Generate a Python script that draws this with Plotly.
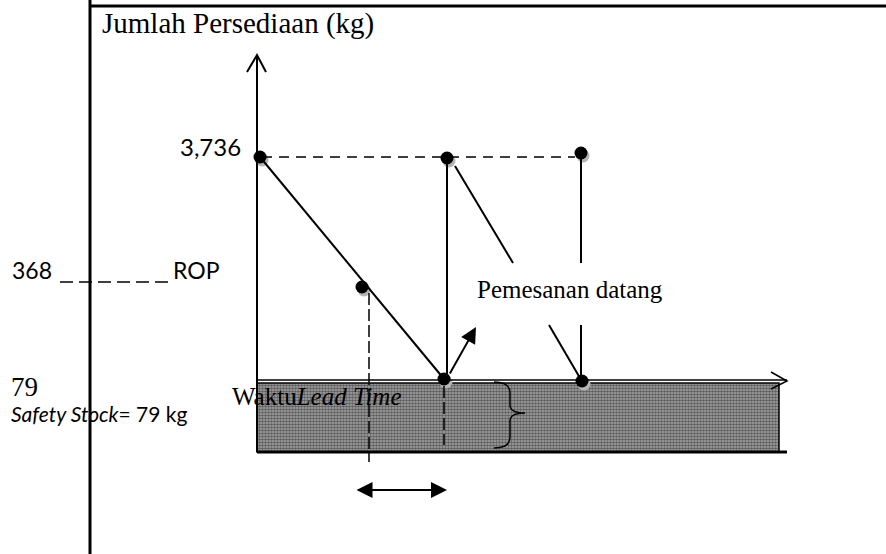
import plotly.graph_objects as go

# ---- diagram data (schematic coordinates: x = time position, y = drawing level) ----
level_labels = ["3,736", "368", "79"]
title_text = "Jumlah Persediaan (kg)"
safety_text = "Safety Stock"
safety_value = "= 79 kg"
rop_text = "ROP"
arrival_text = "Pemesanan datang"
time_text = "Waktu"
lead_text = "Lead Time"

# key points of the inventory cycle (dots)
dot_x = [260, 447, 581, 362, 444, 582]
dot_y = [157, 158, 153, 287, 379, 381]

# drawing levels
y_top = 157          # maximum inventory (3,736)
y_rop = 282          # reorder point (368)
y_ss = 381           # safety stock level (79)
y_base = 452         # zero level
x_axis0 = 257
x_axis1 = 787
x_ss_end = 779

fig = go.Figure()

# safety-stock hatched block
fig.add_trace(go.Scatter(
    x=[x_axis0, x_ss_end, x_ss_end, x_axis0, x_axis0],
    y=[y_ss + 2, y_ss + 2, y_base, y_base, y_ss + 2],
    mode="lines", fill="toself", line=dict(color="black", width=1.5),
    fillcolor="#8a8a8a",
    fillpattern=dict(shape=".", fgcolor="#111111", bgcolor="#a8a8a8", size=3, solidity=0.6),
    hoverinfo="skip", showlegend=False))

def seg(x0, y0, x1, y1, width=2, dash=None, color="black"):
    fig.add_shape(type="line", x0=x0, y0=y0, x1=x1, y1=y1, xref="x", yref="y",
                  line=dict(color=color, width=width, dash=dash))

# frame
seg(90, 6, 886, 6, width=3)
seg(90, 0, 90, 554, width=3)

# axes
seg(x_axis0, 55, x_axis0, y_base, width=2)
seg(x_axis0, y_ss - 1, x_axis1, y_ss - 1, width=1.5)
seg(x_axis0, y_base, x_axis1, y_base, width=3)
fig.add_shape(type="path", path=f"M 247,72 L {x_axis0},55 L 266,72", xref="x", yref="y",
              line=dict(color="black", width=2))
fig.add_shape(type="path", path=f"M 771,372 L {x_axis1},{y_ss} L 771,389", xref="x", yref="y",
              line=dict(color="black", width=1.5))

# max level dashed line
seg(262, y_top, 575, y_top, width=1.5, dash="10px,7px")

# ROP dashed marker
seg(60, y_rop, 173, y_rop, width=1.5, dash="13px,6px")

# inventory cycle lines
seg(dot_x[0], dot_y[0], dot_x[4], dot_y[4], width=2)
seg(dot_x[1], dot_y[1], dot_x[1], y_ss, width=2)
seg(455, 166, 513, 263, width=2)
seg(549, 325, 580, 378, width=2)
seg(dot_x[2], dot_y[2], dot_x[2], 263, width=2)
seg(dot_x[2], 325, dot_x[2], y_ss, width=2)

# lead-time dashed verticals
seg(369, 293, 369, 462, width=1.5, dash="12px,4px")
seg(444, 386, 444, 445, width=1.5, dash="12px,4px")

# brace
fig.add_shape(type="path",
              path="M 494,382 Q 510,382 510,393 L 510,405 Q 510,413 525,413 Q 510,413 510,421 L 510,437 Q 510,448 494,448",
              xref="x", yref="y", line=dict(color="black", width=1.5))

# dots with grey shadow
fig.add_trace(go.Scatter(x=[v + 2 for v in dot_x], y=[v + 3 for v in dot_y], mode="markers",
                         marker=dict(size=13, color="#b5b5b5"), hoverinfo="skip", showlegend=False))
fig.add_trace(go.Scatter(x=dot_x, y=dot_y, mode="markers",
                         marker=dict(size=13, color="black"), hoverinfo="skip", showlegend=False))

# arrows
fig.add_annotation(x=476, y=327, ax=449, ay=375, xref="x", yref="y", axref="x", ayref="y",
                   text="", showarrow=True, arrowhead=2, arrowsize=1.6, arrowwidth=2, arrowcolor="black")
fig.add_annotation(x=447, y=490, ax=355, ay=490, xref="x", yref="y", axref="x", ayref="y",
                   text="", showarrow=True, arrowhead=2, arrowside="end+start",
                   arrowsize=1.6, arrowwidth=2, arrowcolor="black")

serif = "Liberation Serif"
sans = "Lato"

def label(x, y, text, size, family, xanchor="left"):
    fig.add_annotation(x=x, y=y, xref="x", yref="y", text=text, showarrow=False,
                       xanchor=xanchor, yanchor="middle",
                       font=dict(family=family, size=size, color="black"))

label(100, 23, title_text, 29, serif)
label(243, 146, level_labels[0], 24, sans, xanchor="right")
label(10, 270, level_labels[1], 23, sans)
label(171, 270, rop_text, 23, sans)
label(9, 387, level_labels[2], 27, serif)
label(9, 413, f"<i>{safety_text}</i>{safety_value}", 21, sans)
label(475, 289, arrival_text, 25, serif)
label(230, 396, f"{time_text}<i>{lead_text}</i>", 25, serif)

fig.update_xaxes(range=[0, 886], visible=False, fixedrange=True)
fig.update_yaxes(range=[554, 0], visible=False, fixedrange=True)
fig.update_layout(width=886, height=554, margin=dict(l=0, r=0, t=0, b=0),
                  plot_bgcolor="white", paper_bgcolor="white")

fig.write_html("out.html", config={"displayModeBar": False},
               post_script="document.body.style.margin='0';")
